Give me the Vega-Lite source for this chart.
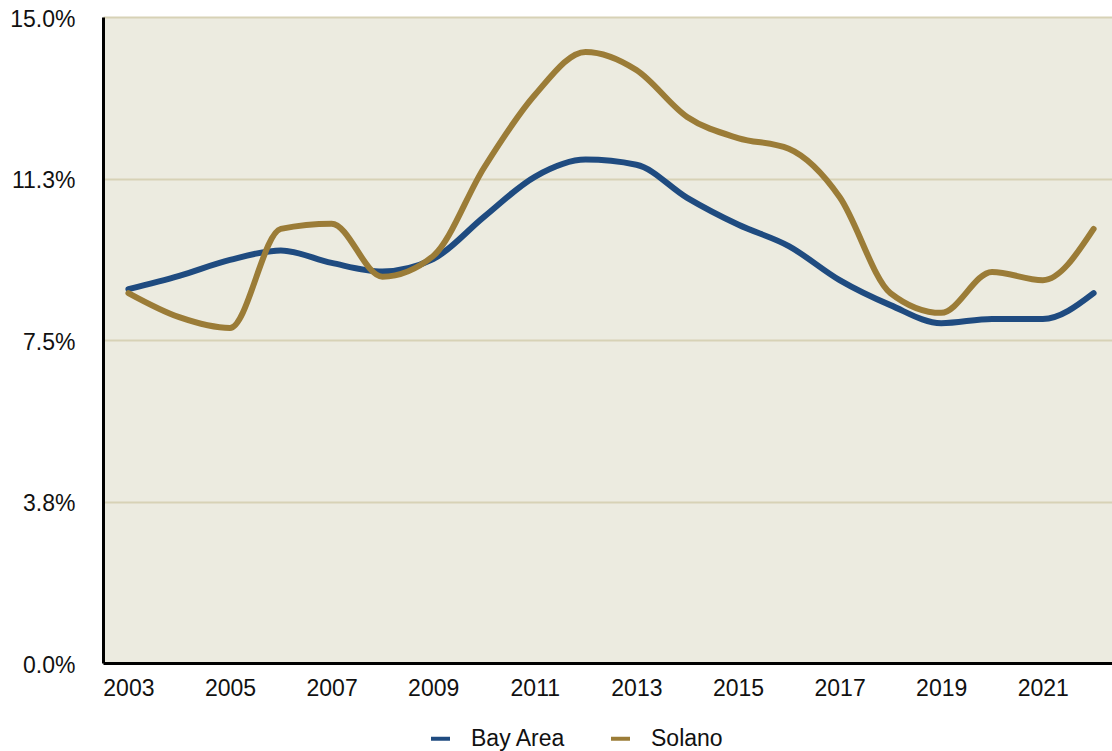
{
  "$schema": "https://vega.github.io/schema/vega-lite/v6.json",
  "autosize": {"type": "none"},
  "padding": {"left": 103, "top": 17, "right": 0, "bottom": 88},
  "width": 1016,
  "height": 646,
  "background": "white",
  "config": {
    "font": "Liberation Sans",
    "view": {"fill": "#ecebe0", "stroke": null}
  },
  "data": {
    "values": [
      {"year": "2003", "series": "Bay Area", "rate": 8.68},
      {"year": "2004", "series": "Bay Area", "rate": 8.99},
      {"year": "2005", "series": "Bay Area", "rate": 9.36},
      {"year": "2006", "series": "Bay Area", "rate": 9.58},
      {"year": "2007", "series": "Bay Area", "rate": 9.29},
      {"year": "2008", "series": "Bay Area", "rate": 9.09},
      {"year": "2009", "series": "Bay Area", "rate": 9.38},
      {"year": "2010", "series": "Bay Area", "rate": 10.36},
      {"year": "2011", "series": "Bay Area", "rate": 11.29},
      {"year": "2012", "series": "Bay Area", "rate": 11.69},
      {"year": "2013", "series": "Bay Area", "rate": 11.57},
      {"year": "2014", "series": "Bay Area", "rate": 10.8},
      {"year": "2015", "series": "Bay Area", "rate": 10.18},
      {"year": "2016", "series": "Bay Area", "rate": 9.68},
      {"year": "2017", "series": "Bay Area", "rate": 8.89},
      {"year": "2018", "series": "Bay Area", "rate": 8.31},
      {"year": "2019", "series": "Bay Area", "rate": 7.89},
      {"year": "2020", "series": "Bay Area", "rate": 7.99},
      {"year": "2021", "series": "Bay Area", "rate": 7.99},
      {"year": "2022", "series": "Bay Area", "rate": 8.59},
      {"year": "2003", "series": "Solano", "rate": 8.59},
      {"year": "2004", "series": "Solano", "rate": 8.03},
      {"year": "2005", "series": "Solano", "rate": 7.78},
      {"year": "2006", "series": "Solano", "rate": 10.08},
      {"year": "2007", "series": "Solano", "rate": 10.2},
      {"year": "2008", "series": "Solano", "rate": 8.97},
      {"year": "2009", "series": "Solano", "rate": 9.45},
      {"year": "2010", "series": "Solano", "rate": 11.5},
      {"year": "2011", "series": "Solano", "rate": 13.19},
      {"year": "2012", "series": "Solano", "rate": 14.19},
      {"year": "2013", "series": "Solano", "rate": 13.77},
      {"year": "2014", "series": "Solano", "rate": 12.68},
      {"year": "2015", "series": "Solano", "rate": 12.19},
      {"year": "2016", "series": "Solano", "rate": 11.94},
      {"year": "2017", "series": "Solano", "rate": 10.82},
      {"year": "2018", "series": "Solano", "rate": 8.59},
      {"year": "2019", "series": "Solano", "rate": 8.13},
      {"year": "2020", "series": "Solano", "rate": 9.08},
      {"year": "2021", "series": "Solano", "rate": 8.89},
      {"year": "2022", "series": "Solano", "rate": 10.08}
    ]
  },
  "mark": {"type": "line", "interpolate": "monotone", "strokeWidth": 6, "strokeCap": "round", "strokeJoin": "round"},
  "encoding": {
    "x": {
      "field": "year",
      "type": "ordinal",
      "scale": {"type": "point", "padding": 0.5},
      "axis": {
        "title": null,
        "labelAngle": 0,
        "labelFontSize": 23,
        "labelColor": "#111111",
        "labelPadding": 14,
        "ticks": false,
        "grid": false,
        "domainColor": "#000000",
        "domainWidth": 3,
        "labelExpr": "(toNumber(datum.value) - 2003) % 2 == 0 ? datum.value : ''"
      }
    },
    "y": {
      "field": "rate",
      "type": "quantitative",
      "scale": {"domain": [0, 15], "nice": false, "zero": true},
      "axis": {
        "title": null,
        "values": [0, 3.75, 7.5, 11.25, 15],
        "labelExpr": "datum.value == 0 ? '0.0%' : datum.value == 3.75 ? '3.8%' : datum.value == 7.5 ? '7.5%' : datum.value == 11.25 ? '11.3%' : '15.0%'",
        "labelFontSize": 23,
        "labelColor": "#111111",
        "labelPadding": 28,
        "labelOffset": 2,
        "ticks": false,
        "grid": true,
        "gridColor": "#d7d2b6",
        "gridWidth": 2,
        "domainColor": "#000000",
        "domainWidth": 3
      }
    },
    "color": {
      "field": "series",
      "type": "nominal",
      "scale": {"domain": ["Bay Area", "Solano"], "range": ["#1f4b80", "#9b7c37"]},
      "legend": {
        "title": null,
        "orient": "none",
        "direction": "horizontal",
        "legendX": 326,
        "legendY": 710,
        "symbolType": "stroke",
        "symbolSize": 361,
        "symbolStrokeWidth": 4,
        "labelFontSize": 23,
        "labelColor": "#111111",
        "labelOffset": 19,
        "columnPadding": 37,
        "symbolOffset": 0
      }
    }
  }
}
